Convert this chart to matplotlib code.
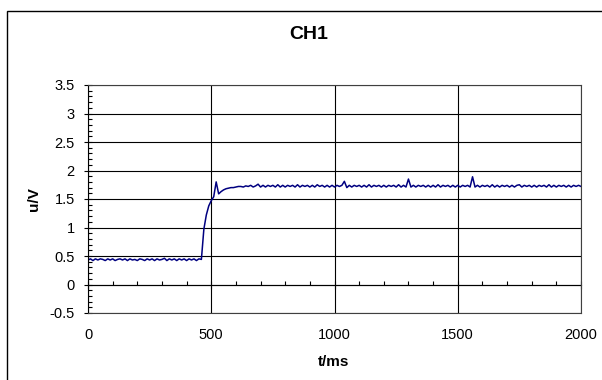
import numpy as np
import matplotlib
matplotlib.use("Agg")
import matplotlib.pyplot as plt
from matplotlib.ticker import MultipleLocator
from matplotlib.patches import Rectangle

plt.rcParams['font.family'] = ['Liberation Sans', 'DejaVu Sans']

# sample grid of the recorder: one value every 10 ms
t_ms = np.arange(0, 2001, 10)

# CH1 voltage
u_base = [0.43, 0.45, 0.42, 0.45, 0.43, 0.45, 0.44, 0.42, 0.45, 0.43,
          0.45, 0.42, 0.44, 0.45, 0.43, 0.45, 0.42, 0.45, 0.43, 0.44,
          0.42, 0.45, 0.44, 0.42, 0.45, 0.43, 0.45, 0.42, 0.45, 0.43,
          0.44, 0.46, 0.42, 0.45, 0.43, 0.45, 0.42, 0.45, 0.43, 0.45,
          0.42, 0.45, 0.43, 0.45, 0.42, 0.45, 0.44]
u_rise = [0.97, 1.22, 1.38, 1.47, 1.54, 1.80, 1.59, 1.63, 1.66, 1.68,
          1.69, 1.70, 1.70, 1.71, 1.72, 1.72, 1.71, 1.73]
u_steady = [1.72, 1.74, 1.71, 1.73, 1.76,
            1.71, 1.74, 1.71, 1.74, 1.72, 1.74, 1.71, 1.75, 1.71, 1.74,
            1.71, 1.74, 1.72, 1.74, 1.71, 1.75, 1.71, 1.74, 1.72, 1.74,
            1.71, 1.74, 1.71, 1.75, 1.72, 1.74, 1.71, 1.74, 1.71, 1.74,
            1.71, 1.74, 1.72, 1.74, 1.81, 1.70, 1.74, 1.71, 1.74, 1.72,
            1.74, 1.71, 1.74, 1.71, 1.75, 1.71, 1.74, 1.72, 1.74, 1.71,
            1.74, 1.71, 1.74, 1.72, 1.74, 1.71, 1.75, 1.71, 1.74, 1.71,
            1.85, 1.71, 1.74, 1.71, 1.74, 1.72, 1.74, 1.71, 1.74, 1.71,
            1.74, 1.71, 1.75, 1.71, 1.74, 1.72, 1.74, 1.71, 1.74, 1.71,
            1.74, 1.71, 1.74, 1.72, 1.74, 1.71, 1.89, 1.71, 1.74, 1.71,
            1.74, 1.72, 1.74, 1.71, 1.75, 1.71, 1.74, 1.71, 1.74, 1.72,
            1.74, 1.71, 1.74, 1.71, 1.74, 1.75, 1.71, 1.74, 1.72, 1.74,
            1.71, 1.74, 1.71, 1.74, 1.72, 1.74, 1.71, 1.75, 1.71, 1.74,
            1.71, 1.74, 1.72, 1.74, 1.71, 1.74, 1.71, 1.74, 1.72, 1.74,
            1.72]
u_v = u_base + u_rise + u_steady

fig = plt.figure(figsize=(6.02, 3.80), dpi=100)
fig.patches.append(Rectangle((7 / 602, -0.1), 1.2, 1.1 - 11 / 380,
                             transform=fig.transFigure, fill=False,
                             edgecolor='black', linewidth=1.0))

ax = fig.add_axes([88 / 602, 67 / 380, 493 / 602, 228 / 380])
ax.plot(t_ms, u_v, color='#000080', linewidth=1.1)

ax.set_xlim(0, 2000)
ax.set_ylim(-0.5, 3.5)
ax.xaxis.set_major_locator(MultipleLocator(500))
ax.yaxis.set_minor_locator(MultipleLocator(0.1))
ax.grid(True, which='major', color='black', linewidth=0.8)
ax.set_yticks([-0.5, 0, 0.5, 1, 1.5, 2, 2.5, 3, 3.5])
ax.set_yticklabels(['-0.5', '0', '0.5', '1', '1.5', '2', '2.5', '3', '3.5'])

for s in ax.spines.values():
    s.set_color('#404040')
    s.set_linewidth(0.8)
ax.spines['left'].set_color('black')

ax.tick_params(axis='x', which='both', length=0, pad=11, labelsize=10.5)
ax.tick_params(axis='y', which='major', direction='inout', length=6,
               width=0.8, pad=6.5, labelsize=10.5)
ax.tick_params(axis='y', which='minor', direction='in', length=3, width=0.8)

# horizontal axis crosses at u = 0
sec = ax.secondary_xaxis(0.125)
sec.xaxis.set_major_locator(MultipleLocator(500))
sec.xaxis.set_minor_locator(MultipleLocator(100))
sec.tick_params(which='major', direction='inout', length=6, width=0.8,
                labelbottom=False)
sec.tick_params(which='minor', direction='in', length=3, width=0.8)
sec.spines['bottom'].set_linewidth(0.8)

fig.text(0.513, 0.908, 'CH1', ha='center', va='center',
         fontsize=14, fontweight='bold')
fig.text(334 / 602, 1 - 362 / 380, 't/ms', ha='center', va='center',
         fontsize=11, fontweight='bold')
fig.text(34 / 602, 1 - 199 / 380, 'u/V', ha='center', va='center',
         fontsize=11, fontweight='bold', rotation=90)

fig.savefig('out.png', dpi=100)
